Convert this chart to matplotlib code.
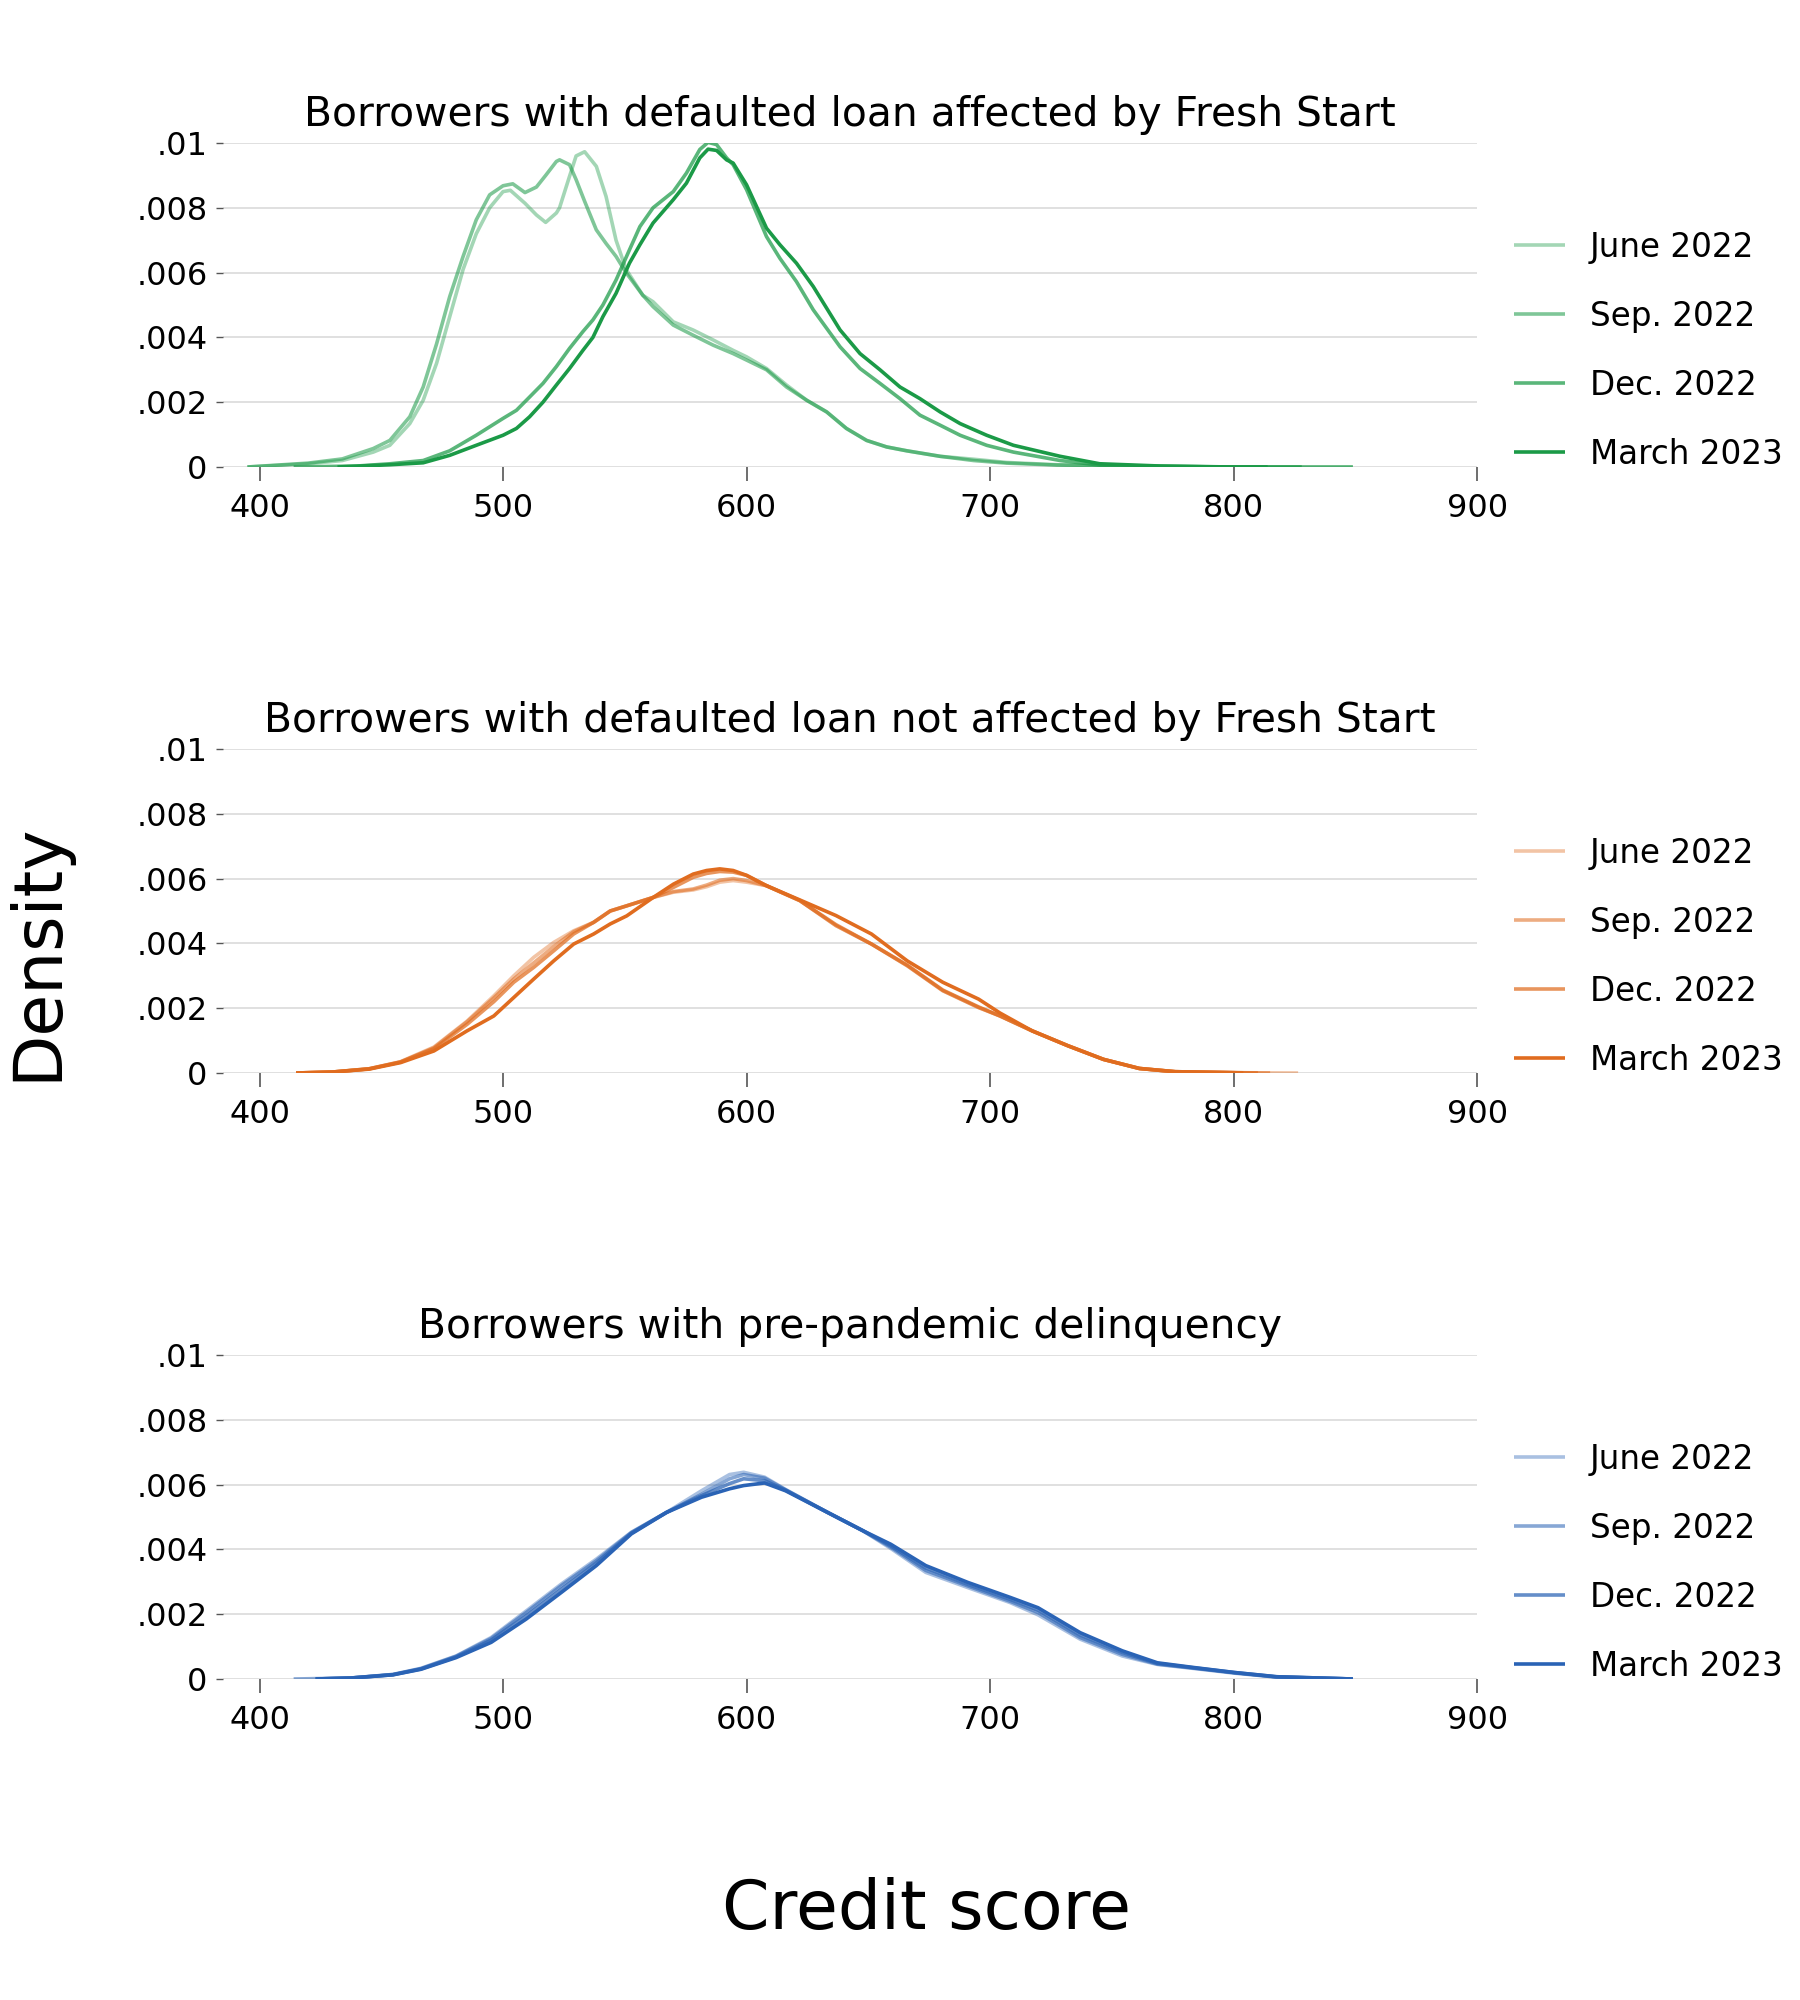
import matplotlib
matplotlib.use("Agg")
import matplotlib.pyplot as plt

periods = ["June 2022", "Sep. 2022", "Dec. 2022", "March 2023"]
alphas = [0.4, 0.56, 0.72, 1.0]

titles = [
    "Borrowers with defaulted loan affected by Fresh Start",
    "Borrowers with defaulted loan not affected by Fresh Start",
    "Borrowers with pre-pandemic delinquency",
]
base_colors = ["#1b9a47", "#e06c1f", "#2a63b5"]

# --- panel 1: affected by Fresh Start (credit score, density) ---
fs_june_x = [395, 420, 434, 446.7, 453.5, 461.7, 467.2, 472.7, 478.1, 483.6, 489, 494.5, 500, 503, 509,
             513.7, 517.5, 521.9, 523.2, 527.3, 530, 533.5, 538.3, 542.3, 546.4, 550.5, 557.4, 561.6,
             569.9, 578, 586.3, 594.5, 600, 608.2, 616.4, 624.7, 632.9, 641, 649.3, 657.5, 665.8,
             679.5, 693.2, 706.8, 727.4, 760, 800, 849]
fs_june_y = [0, 0.0001, 0.0002, 0.00046, 0.00067, 0.00134, 0.00206, 0.0032, 0.00464, 0.0061, 0.0072,
             0.0080, 0.0085, 0.00854, 0.00814, 0.00778, 0.00755, 0.00784, 0.0080, 0.00897, 0.0096,
             0.00973, 0.00928, 0.00835, 0.0070, 0.0061, 0.0053, 0.0051, 0.00448, 0.00423, 0.00392,
             0.0036, 0.0034, 0.00304, 0.00253, 0.00206, 0.0017, 0.00119, 0.00082, 0.00062, 0.0005,
             0.00033, 0.00024, 0.00014, 0.00007, 0.00002, 0.0, 0.0]
fs_sep_x = [395, 420, 434, 446.7, 453.5, 461.7, 467.2, 472.7, 478.1, 483.6, 489, 494.5, 500, 504, 509,
            513.7, 517.5, 521.9, 523.2, 527.3, 530, 533.5, 538.3, 542.3, 546.4, 550.5, 557.4, 561.6,
            569.9, 578, 586.3, 594.5, 600, 608.2, 616.4, 624.7, 632.9, 641, 649.3, 657.5, 665.8,
            679.5, 693.2, 706.8, 727.4, 760, 800, 849]
fs_sep_y = [0, 0.00012, 0.00025, 0.00057, 0.00082, 0.00155, 0.00247, 0.0038, 0.00526, 0.0065, 0.00763,
            0.0084, 0.00868, 0.00874, 0.00847, 0.00864, 0.0090, 0.00943, 0.00948, 0.00933, 0.00887,
            0.0082, 0.00732, 0.0069, 0.0065, 0.0060, 0.0053, 0.00495, 0.00438, 0.00407, 0.00376,
            0.0035, 0.0033, 0.0030, 0.00247, 0.00206, 0.0017, 0.00119, 0.00082, 0.00062, 0.0005,
            0.00033, 0.0002, 0.00012, 0.00006, 0.00002, 0.0, 0.0]
fs_dec_x = [414, 440, 453.6, 467.2, 478.1, 489, 500, 505.5, 510.9, 516.4, 521.9, 527.3, 532.8, 536.9,
            541, 546.4, 551.9, 556.2, 561.6, 569.9, 575.3, 580.8, 584.2, 587.7, 591.8, 594.5, 600,
            608.2, 613.7, 620.5, 627.4, 638.4, 646.6, 654.8, 663, 671.2, 679.5, 687.7, 698.6, 709.6,
            728.8, 745, 770, 800, 828]
fs_dec_y = [0, 0.00003, 0.0001, 0.0002, 0.0005, 0.00098, 0.0015, 0.00175, 0.00216, 0.00258, 0.0031,
            0.00366, 0.00418, 0.00454, 0.005, 0.00577, 0.0067, 0.00742, 0.008, 0.0085, 0.00907,
            0.0098, 0.01002, 0.00995, 0.00954, 0.00933, 0.00856, 0.00711, 0.00644, 0.00572, 0.00485,
            0.00371, 0.00304, 0.00258, 0.00211, 0.0016, 0.00129, 0.00098, 0.00067, 0.00046, 0.0002,
            0.00006, 0.00002, 0.0, 0.0]
fs_mar_x = [432, 453.6, 467.2, 478.1, 489, 500, 505.5, 510.9, 516.4, 521.9, 527.3, 532.8, 536.9, 541,
            546.4, 551.9, 556.2, 561.6, 569.9, 575.3, 580.8, 584.2, 587.7, 591.8, 594.5, 600, 608.2,
            613.7, 620.5, 627.4, 638.4, 646.6, 654.8, 663, 671.2, 679.5, 687.7, 698.6, 709.6, 728.8,
            745, 770, 800, 814]
fs_mar_y = [0, 0.00007, 0.00013, 0.00036, 0.00067, 0.00098, 0.00119, 0.00155, 0.002, 0.00253, 0.00304,
            0.0036, 0.0040, 0.00464, 0.00536, 0.00629, 0.00686, 0.00753, 0.00825, 0.00876, 0.00954,
            0.00981, 0.00977, 0.00948, 0.00938, 0.00871, 0.00737, 0.00686, 0.00629, 0.00557, 0.00423,
            0.0035, 0.003, 0.00247, 0.00211, 0.0017, 0.00134, 0.00098, 0.00067, 0.00033, 0.0001,
            0.00003, 0.0, 0.0]

# --- panel 2: not affected by Fresh Start ---
nf_x = [415, 430, 445, 457.9, 471.6, 485.2, 496.2, 504.4, 512.6, 520.8, 529, 537.2, 544, 550.8, 561.7,
        570, 578.1, 583.6, 589, 594.5, 600, 608.2, 621.9, 636.7, 651.3, 666, 680.6, 695.3, 704.1,
        717.3, 732, 746.6, 761.3, 776, 800]
nf_june_y = [0, 0.00003, 0.00013, 0.00035, 0.0008, 0.0016, 0.00238, 0.003, 0.00357, 0.00403, 0.00439,
             0.00465, 0.005, 0.00516, 0.00542, 0.00558, 0.00565, 0.00575, 0.00589, 0.00594, 0.00589,
             0.00578, 0.00532, 0.00455, 0.00398, 0.00331, 0.00254, 0.00202, 0.00176, 0.0013,
             0.00084, 0.00042, 0.00014, 0.00004, 0.00001]
nf_sep_y = [0, 0.00003, 0.00013, 0.00034, 0.00078, 0.00158, 0.00232, 0.0029, 0.0034, 0.0039, 0.00436,
            0.00465, 0.005, 0.00516, 0.00542, 0.0056, 0.00568, 0.0058, 0.00595, 0.006, 0.00594,
            0.00578, 0.00532, 0.00455, 0.00398, 0.00331, 0.00254, 0.00202, 0.00176, 0.0013,
            0.00084, 0.00042, 0.00014, 0.00004, 0.00001]
nf_dec_y = [0, 0.00003, 0.00013, 0.00034, 0.00075, 0.0015, 0.0022, 0.0028, 0.00326, 0.00377, 0.00429,
            0.00465, 0.005, 0.00516, 0.00542, 0.00573, 0.00604, 0.00616, 0.00622, 0.0062, 0.0061,
            0.00578, 0.00532, 0.00458, 0.00398, 0.00333, 0.00256, 0.00204, 0.00176, 0.0013,
            0.00084, 0.00042, 0.00014, 0.00004, 0.00001]
nf_mar_y = [0, 0.00003, 0.00012, 0.00032, 0.00068, 0.0013, 0.00176, 0.00233, 0.0029, 0.00346, 0.00398,
            0.00429, 0.0046, 0.00485, 0.00542, 0.00583, 0.00614, 0.00625, 0.0063, 0.00625, 0.0061,
            0.00578, 0.00534, 0.00486, 0.00429, 0.00346, 0.0028, 0.00228, 0.00185, 0.0013,
            0.00084, 0.00042, 0.00014, 0.00004, 0.00001]
nf_end = [826.5, 815, 810, 804]

# --- panel 3: pre-pandemic delinquency ---
pp_x = [437.5, 454.8, 466.3, 480.7, 495.1, 509.5, 523.9, 538.3, 552.7, 567.1, 581.5, 593, 598.8, 607.4,
        616, 633.3, 647.7, 659.2, 673.6, 690.9, 708.2, 719.7, 737, 754.3, 768.7, 783.1, 800.4,
        817.6, 849]
pp_june_y = [0.00003, 0.00014, 0.00033, 0.00071, 0.00128, 0.0021, 0.00293, 0.0037, 0.00453, 0.00514,
             0.00581, 0.00631, 0.00638, 0.00623, 0.00585, 0.00514, 0.00458, 0.00403, 0.00329, 0.00282,
             0.00236, 0.00198, 0.00123, 0.00071, 0.00045, 0.00033, 0.00018, 0.00006, 0.0]
pp_sep_y = [0.00003, 0.00014, 0.00032, 0.0007, 0.00125, 0.00205, 0.00288, 0.00365, 0.00452, 0.00514,
            0.0057, 0.00618, 0.00631, 0.0062, 0.00584, 0.00514, 0.00458, 0.00407, 0.00335, 0.00287,
            0.0024, 0.00205, 0.00128, 0.00076, 0.00046, 0.00034, 0.00019, 0.00006, 0.0]
pp_dec_y = [0.00003, 0.00013, 0.00031, 0.00068, 0.0012, 0.00195, 0.00277, 0.00358, 0.0045, 0.00514,
            0.00566, 0.00603, 0.00618, 0.00612, 0.00583, 0.00514, 0.00458, 0.00411, 0.00342, 0.00292,
            0.00246, 0.00212, 0.00135, 0.00082, 0.00048, 0.00035, 0.0002, 0.00007, 0.0]
pp_mar_y = [0.00003, 0.00013, 0.0003, 0.00066, 0.00113, 0.00185, 0.00267, 0.0035, 0.00448, 0.00514,
            0.00561, 0.00587, 0.00597, 0.00605, 0.00581, 0.00514, 0.00458, 0.00416, 0.0035, 0.00298,
            0.00252, 0.0022, 0.00143, 0.00087, 0.0005, 0.00036, 0.0002, 0.00007, 0.0]
pp_start = [423, 414, 423, 423]

panels = [
    [(fs_june_x, fs_june_y), (fs_sep_x, fs_sep_y), (fs_dec_x, fs_dec_y), (fs_mar_x, fs_mar_y)],
    [(nf_x + [e], y + [0.0]) for y, e in zip([nf_june_y, nf_sep_y, nf_dec_y, nf_mar_y], nf_end)],
    [([s] + pp_x, [0.0] + y) for y, s in zip([pp_june_y, pp_sep_y, pp_dec_y, pp_mar_y], pp_start)],
]

yticks = [0, 0.002, 0.004, 0.006, 0.008, 0.01]
ytick_labels = ["0", ".002", ".004", ".006", ".008", ".01"]
xticks = [400, 500, 600, 700, 800, 900]

fig = plt.figure(figsize=(18, 20), dpi=100)
bottoms = [0.7665, 0.4635, 0.1605]

for i, series in enumerate(panels):
    ax = fig.add_axes([0.1239, bottoms[i], 0.6967, 0.162])
    for (xs, ys), lab, a in zip(series, periods, alphas):
        ax.plot(xs, ys, color=base_colors[i], alpha=a, lw=2.6, label=lab,
                solid_joinstyle="round", solid_capstyle="butt")
    ax.set_xlim(385, 900)
    ax.set_ylim(0, 0.01)
    ax.set_yticks(yticks)
    ax.set_yticklabels(ytick_labels)
    ax.set_xticks(xticks)
    for s in ax.spines.values():
        s.set_visible(False)
    ax.grid(axis="y", color="#dddddd", lw=1.3)
    ax.set_axisbelow(True)
    ax.tick_params(axis="y", length=5, width=1, color="#555555", labelsize=23, pad=6)
    ax.tick_params(axis="x", length=10, width=1.2, color="#555555", labelsize=23, pad=9)
    ax.set_title(titles[i], fontsize=29.3, pad=12)
    ax.legend(loc="center left", bbox_to_anchor=(1.0295, 0.359), frameon=False, fontsize=23.5,
              borderpad=0, borderaxespad=0, labelspacing=1.1, handlelength=1.55, handletextpad=0.78)

fig.text(0.021, 0.524, "Density", rotation=90, fontsize=49, ha="center", va="center")
fig.text(0.515, 0.045, "Credit score", fontsize=49, ha="center", va="center")

fig.savefig("out.png", dpi=100, facecolor="white")
